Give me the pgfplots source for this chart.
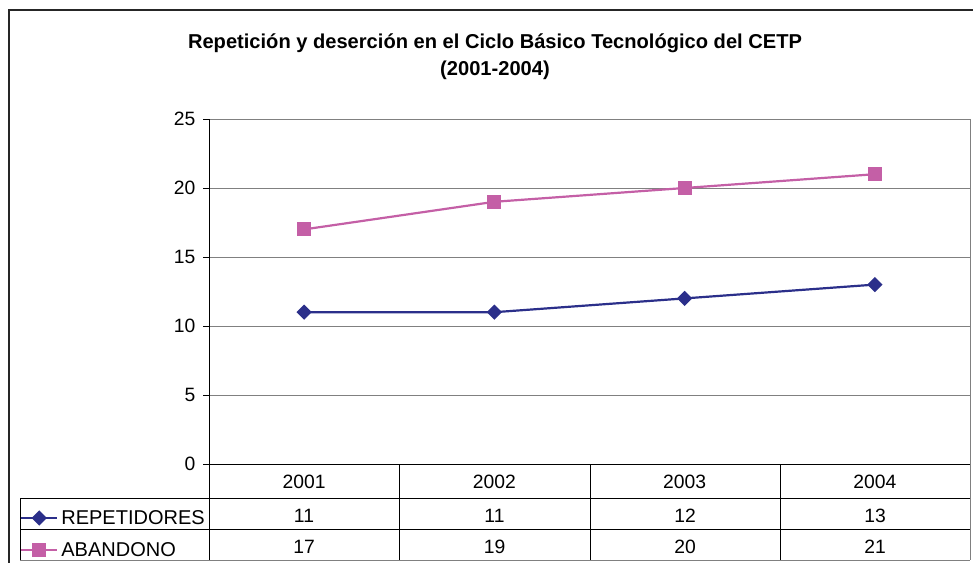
\documentclass[border=0pt]{standalone}
\usepackage{fontspec}
\setmainfont{Liberation Sans}
\usepackage{pgfplots}
\pgfplotsset{compat=1.18}
\definecolor{rep}{HTML}{2B2F8A}
\definecolor{aba}{HTML}{C45FA6}
\definecolor{gridc}{HTML}{808080}
\begin{document}
\begin{tikzpicture}[x=1pt,y=1pt]
\path[use as bounding box] (0,0) rectangle (973,562);
\draw[line width=1.3pt, black!85] (9,-30) -- (9,552) -- (1010,552);
\node[font=\fontsize{20.1}{27}\bfseries\selectfont, align=center] at (495,505.5) {Repetición y deserción en el Ciclo Básico Tecnológico del CETP\\(2001-2004)};
\begin{axis}[
  at={(209pt,98pt)}, anchor=south west,
  width=761pt, height=345pt, scale only axis,
  xmin=-0.5, xmax=3.5, ymin=0, ymax=25,
  ytick={0,5,...,25},
  xtick={0,1,2,3}, xticklabels={2001,2002,2003,2004},
  xtick style={draw=none},
  axis lines*=left,
  axis line style={-, black, line width=0.8pt},
  ymajorgrids, major grid style={gridc, line width=0.8pt},
  tick align=outside, major tick length=6pt,
  ytick style={black, line width=0.8pt},
  /pgf/number format/assume math mode=true,
  ticklabel style={font=\fontsize{19.3}{20}\selectfont},
  yticklabel style={xshift=-4pt},
  xticklabel style={yshift=-1pt},
  clip=false,
  legend style={at={(axis description cs:-0.2484,-0.1304)}, anchor=north west,
    draw=none, fill=none, inner sep=0pt, row sep=14.5pt, column sep=2pt,
    font=\fontsize{20}{20}\selectfont,
    nodes={inner sep=1pt, anchor=west}},
  legend cell align=left,
  legend image code/.code={\draw[#1, mark repeat=2, mark phase=2] plot coordinates {(0pt,0pt) (18pt,0pt) (36pt,0pt)};},
]
\addplot[rep, line width=2.2pt, mark=square*, mark size=4.3pt, mark options={rotate=45, solid}] coordinates {(0,11) (1,11) (2,12) (3,13)};
\addlegendentry{REPETIDORES}
\addplot[aba, line width=2.2pt, mark=square*, mark size=6pt, mark options={solid}] coordinates {(0,17) (1,19) (2,20) (3,21)};
\addlegendentry{ABANDONO}
\draw[gridc, line width=0.8pt] (rel axis cs:1,0) -- (rel axis cs:1,1);
\end{axis}
% data table grid
\draw[black, line width=0.8pt] (209,98) -- (209,2);
\foreach \x in {399,590,780} {\draw[black, line width=0.8pt] (\x,98) -- (\x,2);}
\draw[gridc, line width=0.8pt] (970,98) -- (970,2);
\draw[black, line width=0.8pt] (20,64) -- (20,2);
\foreach \y in {64,33} {\draw[black, line width=0.8pt] (20,\y) -- (970,\y);}
\draw[gridc, line width=0.8pt] (20,2) -- (970,2);
\begin{scope}[every node/.style={font=\fontsize{19.3}{20}\selectfont}]
\node at (304,46) {11}; \node at (494.5,46) {11}; \node at (685,46) {12}; \node at (875,46) {13};
\node at (304,15) {17}; \node at (494.5,15) {19}; \node at (685,15) {20}; \node at (875,15) {21};
\end{scope}
\end{tikzpicture}
\end{document}
